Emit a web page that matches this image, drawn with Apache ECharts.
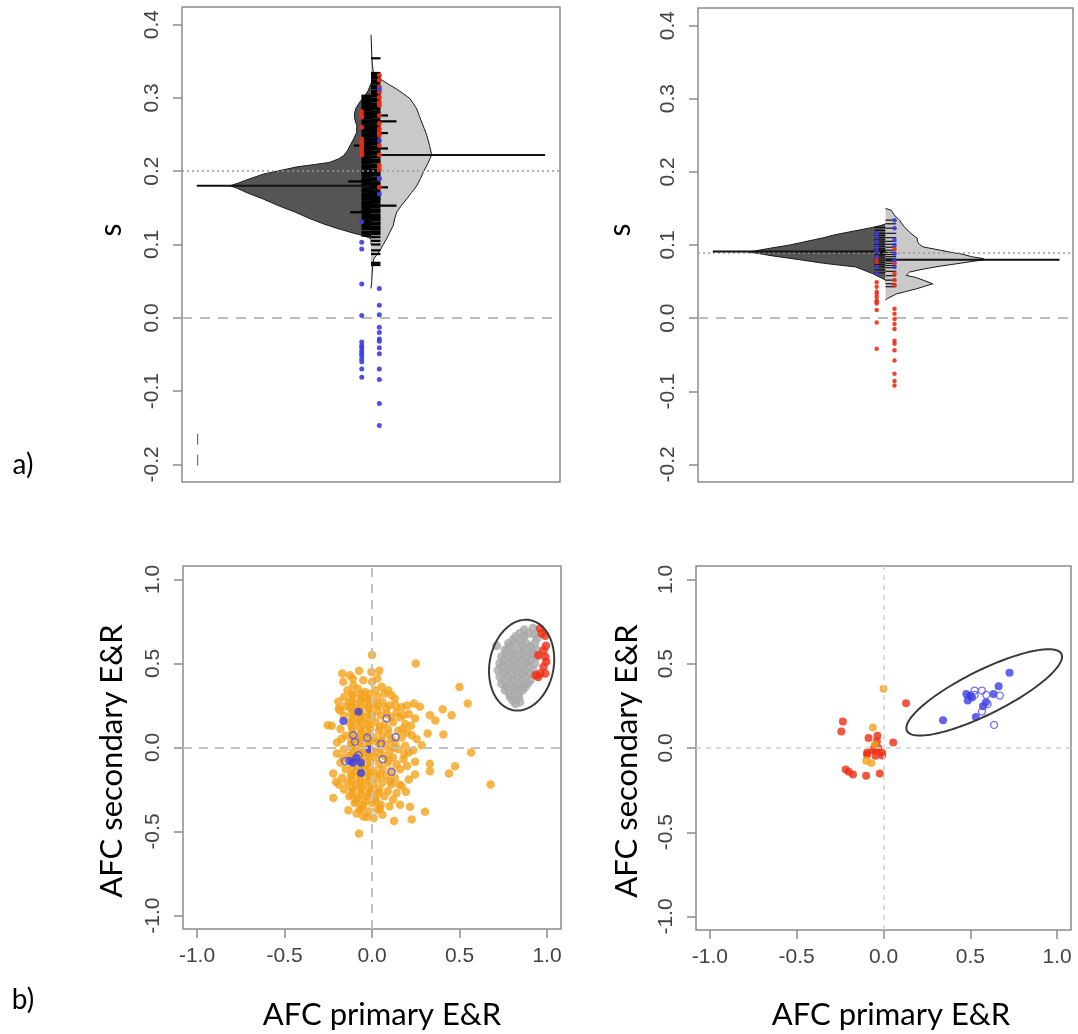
<!DOCTYPE html>
<html>
<head>
<meta charset="utf-8">
<script src="https://cdn.jsdelivr.net/npm/echarts@6/dist/echarts.min.js"></script>
<style>
  html, body { margin: 0; padding: 0; background: #fff; }
  #chart { width: 1078px; height: 1034px; }
</style>
</head>
<body>
<div id="chart"></div>
<script>
// ---------- axis ticks ----------
const sTicks = [-0.2, -0.1, 0, 0.1, 0.2, 0.3, 0.4];
const afcTicks = [-1, -0.5, 0, 0.5, 1];

// ---------- panel a, left bean plot ----------
// density profiles: [s, half-width]
const beanA1 = [[0.100,0.0],[0.108,0.0],[0.112,0.04],[0.116,0.10],[0.122,0.18],[0.128,0.25],[0.136,0.33],[0.144,0.40],[0.153,0.49],[0.162,0.57],[0.171,0.66],[0.177,0.71],[0.180,0.746],[0.184,0.70],[0.188,0.66],[0.196,0.57],[0.201,0.48],[0.206,0.39],[0.209,0.30],[0.212,0.22],[0.217,0.17],[0.221,0.146],[0.228,0.125],[0.235,0.111],[0.245,0.09],[0.253,0.076],[0.262,0.075],[0.270,0.085],[0.278,0.088],[0.286,0.08],[0.294,0.06],[0.302,0.035],[0.310,0.015],[0.320,0.0]];
const beanA2 = [[0.040,0.0],[0.050,0.004],[0.060,0.006],[0.070,0.009],[0.080,0.014],[0.092,0.048],[0.100,0.065],[0.108,0.083],[0.117,0.10],[0.126,0.118],[0.135,0.125],[0.144,0.136],[0.153,0.16],[0.162,0.189],[0.171,0.215],[0.180,0.242],[0.190,0.262],[0.199,0.277],[0.210,0.30],[0.222,0.321],[0.235,0.31],[0.249,0.295],[0.258,0.282],[0.267,0.268],[0.276,0.255],[0.285,0.242],[0.292,0.225],[0.299,0.206],[0.306,0.17],[0.312,0.136],[0.319,0.09],[0.326,0.048],[0.332,0.014],[0.345,0.007],[0.360,0.004],[0.386,0.0]];
const meanA = [0.180, 0.222];
const overallA = 0.200;
const linesA1 = [0.112,0.115,0.117,0.121,0.124,0.126,0.128,0.131,0.133,0.136,0.138,0.140,0.143,0.145,0.147,0.150,0.151,0.154,0.156,0.158,0.161,0.163,0.165,0.167,0.169,0.172,0.174,0.176,0.179,0.181,0.183,0.186,0.188,0.190,0.193,0.195,0.197,0.199,0.201,0.204,0.206,0.208,0.211,0.213,0.215,0.217,0.219,0.222,0.224,0.226,0.229,0.231,0.233,0.236,0.238,0.240,0.242,0.244,0.247,0.249,0.251,0.254,0.256,0.258,0.260,0.262,0.265,0.267,0.269,0.272,0.274,0.276,0.278,0.280,0.283,0.285,0.287,0.289,0.291,0.293,0.295,0.297,0.299,0.301,0.303];
const linesA2 = [0.072,0.075,0.087,0.092,0.100,0.105,0.110,0.114,0.116,0.118,0.121,0.123,0.124,0.127,0.129,0.130,0.133,0.135,0.137,0.139,0.141,0.144,0.146,0.148,0.151,0.153,0.155,0.158,0.160,0.162,0.164,0.166,0.169,0.171,0.173,0.176,0.178,0.180,0.182,0.184,0.187,0.189,0.191,0.194,0.196,0.198,0.200,0.202,0.205,0.207,0.209,0.212,0.214,0.216,0.219,0.221,0.223,0.225,0.227,0.230,0.232,0.234,0.237,0.239,0.241,0.243,0.245,0.248,0.250,0.252,0.255,0.257,0.259,0.261,0.263,0.266,0.268,0.270,0.273,0.275,0.277,0.279,0.281,0.284,0.286,0.288,0.290,0.292,0.295,0.297,0.299,0.302,0.304,0.306,0.308,0.310,0.313,0.315,0.317,0.320,0.322,0.324,0.327,0.329,0.331,0.334,0.354];
const longA1 = [[0.186,0.12],[0.144,0.11],[0.235,0.09]];
const longA2 = [[0.276,0.09],[0.268,0.135],[0.252,0.09],[0.231,0.09],[0.178,0.09],[0.153,0.135]];
const redA1 = [0.281,0.276,0.274,0.260,0.244,0.240,0.235,0.231,0.226,0.222];
const blueA1 = [0.131,0.103,0.094,0.046,0.003,-0.033,-0.038,-0.041,-0.045,-0.048,-0.051,-0.056,-0.060,-0.070,-0.081];
const redA2 = [0.331,0.324,0.315,0.308,0.301,0.294,0.290,0.276,0.265,0.258,0.253,0.249,0.235,0.222,0.208,0.203,0.190,0.178];
const blueA2 = [0.312,0.242,0.190,0.169,0.040,0.017,0.004,-0.013,-0.020,-0.029,-0.032,-0.041,-0.049,-0.070,-0.084,-0.117,-0.147];
const stubA = [-0.158, -0.203];

// ---------- panel a, right bean plot ----------
const beanB1 = [[0.050,0.0],[0.052,0.0],[0.056,0.03],[0.061,0.07],[0.066,0.12],[0.070,0.16],[0.075,0.33],[0.080,0.46],[0.085,0.60],[0.0905,0.725],[0.095,0.63],[0.100,0.51],[0.105,0.42],[0.110,0.33],[0.114,0.27],[0.118,0.19],[0.121,0.13],[0.124,0.07],[0.127,0.02],[0.129,0.0]];
const beanB2 = [[0.025,0.0],[0.027,0.012],[0.033,0.057],[0.040,0.164],[0.047,0.252],[0.052,0.20],[0.0555,0.164],[0.0585,0.11],[0.063,0.128],[0.067,0.20],[0.071,0.29],[0.0755,0.41],[0.080,0.528],[0.0815,0.52],[0.084,0.46],[0.0874,0.41],[0.090,0.35],[0.093,0.29],[0.0974,0.20],[0.101,0.18],[0.105,0.17],[0.109,0.17],[0.117,0.13],[0.125,0.10],[0.130,0.085],[0.134,0.075],[0.140,0.05],[0.1475,0.03],[0.150,0.0]];
const meanB = [0.091, 0.080];
const overallB = 0.087;
const linesB1 = [0.062,0.066,0.070,0.073,0.076,0.079,0.082,0.085,0.087,0.089,0.090,0.091,0.092,0.093,0.095,0.098,0.101,0.104,0.107,0.110,0.113,0.116,0.120,0.124];
const linesB2 = [0.043,0.047,0.052,0.058,0.064,0.069,0.072,0.075,0.078,0.080,0.081,0.084,0.087,0.090,0.093,0.097,0.101,0.105,0.110,0.116,0.123,0.129,0.134];
const redB1 = [0.082,0.077,0.049,0.043,0.036,0.033,0.029,0.024,0.022,0.020,0.011,-0.006,-0.042];
const blueB1 = [0.116,0.111,0.104,0.097,0.091,0.084,0.070,0.061];
const redB2 = [0.095,0.075,0.061,0.052,0.045,0.013,0.006,-0.001,-0.008,-0.015,-0.031,-0.035,-0.044,-0.058,-0.076,-0.086,-0.092];
const blueB2 = [0.134,0.123,0.107,0.100,0.088,0.079,0.070];

// ---------- panel b, left scatter ----------
const orangeC = [
  [0.0,0.55],[0.25,0.50],[-0.17,0.44],[-0.126,0.43],[-0.074,0.456],[0.042,0.456],[-0.003,0.45],[0.50,0.36],[0.547,0.262],[0.455,0.192],
  [0.404,0.228],[0.331,0.192],[0.362,0.161],[0.408,0.077],[0.318,0.083],[0.566,-0.03],[0.678,-0.22],[0.474,-0.111],[0.44,-0.155],[0.331,-0.097],
  [0.331,-0.141],[0.246,-0.085],[0.246,-0.161],[0.236,-0.016],[0.284,0.014],[0.227,0.073],[0.223,0.129],[0.246,0.173],[0.179,0.192],[0.274,0.242],
  [0.24,0.262],[0.303,-0.383],[0.227,-0.429],[0.126,-0.437],[-0.074,-0.512],[-0.221,-0.30],[-0.253,0.133],[-0.23,0.129],[-0.135,-0.373],[0.217,-0.353],
  [0.16,-0.34],[0.194,-0.264],[0.046,-0.363],[-0.03,-0.413],[-0.088,-0.393],[-0.221,-0.155],[-0.206,-0.204],[-0.202,-0.036],[-0.183,0.222],[-0.192,0.272],
  [-0.164,0.391],[-0.107,0.371],[0.0,0.391],[0.055,0.361],[0.093,0.341],[0.112,0.311],
  [-0.14,0.34],[-0.08,0.35],[-0.04,0.33],[0.02,0.34],[0.07,0.32],
  [-0.16,0.30],[-0.11,0.31],[-0.06,0.30],[-0.02,0.29],[0.03,0.30],[0.13,0.29],
  [-0.13,0.27],[-0.09,0.26],[-0.04,0.27],[0.01,0.26],[0.06,0.27],[0.10,0.25],[0.20,0.25],
  [-0.19,0.23],[-0.12,0.23],[-0.07,0.22],[-0.02,0.23],[0.03,0.22],[0.08,0.23],[0.14,0.21],[0.17,0.24],
  [-0.16,0.19],[-0.10,0.19],[-0.05,0.18],[0.00,0.19],[0.05,0.19],[0.11,0.18],[0.16,0.18],[0.21,0.20],
  [-0.13,0.15],[-0.08,0.15],[-0.03,0.14],[0.02,0.15],[0.07,0.14],[0.12,0.15],[0.19,0.14],
  [-0.18,0.11],[-0.11,0.11],[-0.06,0.10],[-0.01,0.11],[0.04,0.10],[0.09,0.11],[0.15,0.10],[0.20,0.09],
  [-0.15,0.07],[-0.09,0.06],[-0.04,0.07],[0.01,0.06],[0.06,0.07],[0.11,0.05],[0.17,0.06],
  [-0.20,0.03],[-0.12,0.02],[-0.07,0.03],[-0.02,0.02],[0.03,0.03],[0.08,0.02],[0.13,0.03],[0.19,0.01],
  [-0.16,-0.01],[-0.10,-0.02],[-0.05,-0.01],[0.00,-0.02],[0.05,-0.01],[0.10,-0.02],[0.15,-0.01],[0.21,-0.03],
  [-0.13,-0.05],[-0.08,-0.06],[-0.03,-0.05],[0.02,-0.06],[0.07,-0.05],[0.12,-0.06],[0.18,-0.07],
  [-0.18,-0.09],[-0.11,-0.09],[-0.06,-0.10],[-0.01,-0.09],[0.04,-0.10],[0.09,-0.09],[0.14,-0.10],[0.20,-0.11],
  [-0.15,-0.13],[-0.09,-0.14],[-0.04,-0.13],[0.01,-0.14],[0.06,-0.13],[0.11,-0.14],[0.16,-0.13],
  [-0.17,-0.18],[-0.12,-0.17],[-0.07,-0.18],[-0.02,-0.17],[0.03,-0.18],[0.08,-0.17],[0.13,-0.18],[0.21,-0.19],
  [-0.14,-0.21],[-0.09,-0.22],[-0.04,-0.21],[0.01,-0.22],[0.06,-0.21],[0.11,-0.22],[0.17,-0.23],
  [-0.16,-0.25],[-0.11,-0.26],[-0.06,-0.25],[-0.01,-0.26],[0.04,-0.25],[0.09,-0.26],[0.14,-0.27],
  [-0.13,-0.29],[-0.08,-0.30],[-0.03,-0.29],[0.02,-0.30],[0.07,-0.29],[0.12,-0.31],
  [-0.10,-0.33],[-0.05,-0.34],[0.00,-0.33],[0.05,-0.34],[0.10,-0.35],
  [-0.07,-0.37],[-0.02,-0.38],[0.03,-0.37],[-0.05,-0.41],[0.01,-0.42],[0.06,-0.40],
  [-0.11,0.41],[-0.05,0.40],[0.03,0.41],
  [-0.115,0.32],[-0.065,0.32],[-0.015,0.32],[-0.115,0.28],[-0.065,0.28],[-0.015,0.28],[-0.115,0.24],[-0.065,0.24],[-0.015,0.24],
  [-0.115,0.20],[-0.065,0.20],[-0.015,0.20],[-0.115,0.16],[-0.065,0.16],[-0.015,0.16],[-0.115,0.12],[-0.065,0.12],[-0.015,0.12],
  [-0.115,0.08],[-0.065,0.08],[-0.015,0.08],[-0.115,0.04],[-0.065,0.04],[-0.015,0.04],[-0.115,0.00],[-0.065,0.00],[-0.015,0.00],
  [-0.115,-0.04],[-0.065,-0.04],[-0.015,-0.04],[-0.115,-0.08],[-0.065,-0.08],[-0.015,-0.08],[-0.115,-0.12],[-0.065,-0.12],[-0.015,-0.12],
  [-0.115,-0.16],[-0.065,-0.16],[-0.015,-0.16],[-0.115,-0.20],[-0.065,-0.20],[-0.015,-0.20],[-0.115,-0.24],[-0.065,-0.24],[-0.015,-0.24],
  [-0.115,-0.28],[-0.065,-0.28],[-0.015,-0.28],[-0.09,-0.32],[-0.04,-0.32],[0.02,-0.32],[-0.06,-0.36],
  [0.035,0.25],[0.085,0.20],[0.045,0.12],[0.095,0.08],[0.055,0.04],[0.125,0.00],[0.035,-0.03],[0.095,-0.07],[0.045,-0.16],[0.105,-0.20],
  [0.035,-0.27],[0.155,-0.22],[0.175,0.11],[0.135,0.25],[-0.175,0.05],[-0.165,-0.06],[-0.19,-0.22],[-0.15,0.245],[0.185,-0.04],[0.255,0.05]
];
const blueFillC = [[-0.164,0.157],[-0.078,0.212],[-0.015,-0.01],[-0.09,-0.061],[-0.107,-0.09],[-0.063,-0.091],[-0.063,-0.151],[-0.13,-0.08]];
const blueOpenC = [[0.084,0.173],[-0.107,0.073],[-0.097,0.034],[-0.027,0.058],[0.051,0.022],[0.135,0.061],[-0.078,-0.046],[-0.154,-0.081],[0.061,-0.07],[0.112,-0.145]];
const greyC = [
  [0.87,0.70],[0.92,0.71],[0.82,0.66],[0.87,0.66],[0.93,0.67],[0.78,0.62],[0.83,0.62],[0.88,0.62],[0.93,0.62],
  [0.712,0.605],[0.76,0.58],[0.81,0.58],[0.86,0.58],[0.91,0.58],[0.74,0.54],[0.79,0.54],[0.84,0.54],[0.89,0.54],
  [0.73,0.50],[0.78,0.50],[0.83,0.50],[0.88,0.50],[0.93,0.50],[0.72,0.46],[0.77,0.46],[0.82,0.46],[0.87,0.46],[0.92,0.46],
  [0.73,0.42],[0.78,0.42],[0.83,0.42],[0.88,0.42],[0.74,0.38],[0.79,0.38],[0.84,0.38],[0.89,0.38],
  [0.76,0.34],[0.81,0.34],[0.86,0.34],[0.79,0.30],[0.84,0.30],[0.82,0.26],
  [0.755,0.44],[0.805,0.52],[0.855,0.44],[0.855,0.64],[0.905,0.52],[0.805,0.40],[0.855,0.36],[0.905,0.40],
  [0.895,0.68],[0.845,0.68],[0.805,0.64],[0.855,0.60],[0.905,0.60],[0.785,0.60],[0.765,0.56],[0.815,0.56],[0.865,0.56],[0.915,0.56],
  [0.755,0.52],[0.855,0.52],[0.745,0.48],[0.795,0.48],[0.845,0.48],[0.895,0.48],[0.805,0.44],[0.905,0.44],[0.755,0.40],[0.855,0.40],
  [0.765,0.36],[0.815,0.36],[0.875,0.36],[0.785,0.32],[0.835,0.32],[0.805,0.28],[0.845,0.27],[0.94,0.58],[0.94,0.54],[0.945,0.65]
];
const redC = [[0.96,0.708],[0.989,0.665],[0.97,0.68],[0.994,0.605],[0.98,0.579],[0.95,0.549],[0.99,0.54],[0.996,0.51],[0.98,0.48],[0.96,0.44],[0.99,0.44],[0.95,0.42],[0.935,0.43]];
// ellipse: centre x, centre y, major axis x, major axis y, minor axis x, minor axis y
const ellipseC = [0.855, 0.49, 0.048, 0.268, 0.18, -0.035];

// ---------- panel b, right scatter ----------
const redD = [[0.13,0.266],[-0.234,0.157],[-0.243,0.098],[-0.086,0.06],[-0.035,0.072],[-0.038,0.04],[0.056,0.032],[-0.094,-0.026],[-0.052,0.006],[-0.008,-0.026],[-0.095,-0.04],[-0.046,-0.046],[-0.008,-0.045],[-0.045,-0.015],[-0.218,-0.128],[-0.2,-0.141],[-0.176,-0.157],[-0.1,-0.165],[-0.021,-0.151],[-0.062,-0.012],[-0.03,0.0]];
const orangeD = [[0.0,0.351],[-0.061,0.122],[-0.1,-0.075],[-0.07,-0.089],[-0.05,0.018]];
const blueFillD = [[0.343,0.165],[0.532,0.184],[0.485,0.282],[0.477,0.321],[0.50,0.311],[0.51,0.30],[0.59,0.272],[0.573,0.248],[0.634,0.321],[0.726,0.446],[0.663,0.367]];
const blueOpenD = [[0.525,0.341],[0.567,0.341],[0.592,0.315],[0.567,0.216],[0.67,0.311],[0.637,0.137],[0.525,0.315],[0.60,0.26]];
const ellipseD = [0.58, 0.33, 0.445, 0.228, -0.056, 0.117];

// ---------- colours ----------
const cDark = '#555555', cLight = '#c9c9c9';
const cRed = '#ef2d14', cBlue = '#3c3ce6', cOrange = '#f2a21c', cGrey = '#a9a9a9';
const boxColor = '#8c8c8c', tickText = '#444444';

// ---------- helpers ----------
const fmt = v => v.toFixed(1);

function yAxisCfg(grid, min, max, ticks) {
  return {
    type: 'value', gridIndex: grid, min: min, max: max,
    axisLine: { show: false, onZero: false }, splitLine: { show: false },
    axisTick: { show: true, customValues: ticks, length: 9, lineStyle: { color: boxColor, width: 1.5 } },
    axisLabel: { customValues: ticks, rotate: 90, margin: 19, fontSize: 21, color: tickText,
                 fontFamily: 'Liberation Sans, Arial, sans-serif', formatter: fmt }
  };
}
function xAxisCfg(grid, min, max, ticks) {
  if (!ticks) {
    return { type: 'value', gridIndex: grid, min: min, max: max, show: false,
             axisLine: { show: false, onZero: false } };
  }
  return {
    type: 'value', gridIndex: grid, min: min, max: max,
    axisLine: { show: false, onZero: false }, splitLine: { show: false },
    axisTick: { show: true, customValues: ticks, length: 9, lineStyle: { color: boxColor, width: 1.5 } },
    axisLabel: { customValues: ticks, margin: 17, fontSize: 21, color: tickText,
                 fontFamily: 'Liberation Sans, Arial, sans-serif', formatter: fmt }
  };
}

// one half of a bean: filled density with an outline
function beanHalf(profile, side, fill, gi) {
  return {
    type: 'custom', xAxisIndex: gi, yAxisIndex: gi, silent: true, z: 3,
    data: [[0, profile[0][0]]],
    renderItem: function (params, api) {
      const outline = profile.map(p => api.coord([side * p[1], p[0]]));
      const poly = [api.coord([0, profile[0][0]])].concat(outline, [api.coord([0, profile[profile.length - 1][0]])]);
      return { type: 'group', children: [
        { type: 'polygon', shape: { points: poly }, style: { fill: fill } },
        { type: 'polyline', shape: { points: outline }, style: { fill: null, stroke: '#1a1a1a', lineWidth: 1 } }
      ] };
    }
  };
}

// short horizontal lines, one per observation
function beanLines(items, side, gi, width, color) {
  return {
    type: 'custom', xAxisIndex: gi, yAxisIndex: gi, silent: true, z: 4,
    data: items,
    encode: { x: 1, y: 0 },
    renderItem: function (params, api) {
      const s = api.value(0), len = api.value(1);
      const a = api.coord([0, s]), b = api.coord([side * len, s]);
      return { type: 'line', shape: { x1: a[0], y1: a[1], x2: b[0], y2: b[1] },
               style: { stroke: color, lineWidth: width } };
    }
  };
}

function meanLine(s, from, to, gi) {
  return {
    type: 'line', xAxisIndex: gi, yAxisIndex: gi, silent: true, z: 5, symbol: 'none',
    data: [[from, s], [to, s]], lineStyle: { color: '#111', width: 2 }
  };
}

function dots(values, xcol, color, gi, size) {
  return {
    type: 'scatter', xAxisIndex: gi, yAxisIndex: gi, silent: true, z: 6,
    symbolSize: size, data: values.map(v => [xcol, v]),
    itemStyle: { color: color, opacity: 0.9 }
  };
}

function points(data, gi, style, size, z) {
  return {
    type: 'scatter', xAxisIndex: gi, yAxisIndex: gi, silent: true, z: z,
    symbol: 'circle', symbolSize: size, data: data, itemStyle: style
  };
}

function ellipse(e, gi) {
  return {
    type: 'custom', xAxisIndex: gi, yAxisIndex: gi, silent: true, z: 8,
    data: [[e[0], e[1]]],
    renderItem: function (params, api) {
      const pts = [];
      for (let i = 0; i <= 120; i++) {
        const t = i / 120 * Math.PI * 2, c = Math.cos(t), s = Math.sin(t);
        pts.push(api.coord([e[0] + e[2] * c + e[4] * s, e[1] + e[3] * c + e[5] * s]));
      }
      return { type: 'polyline', shape: { points: pts }, style: { fill: null, stroke: '#3a3a3a', lineWidth: 2 } };
    }
  };
}

function refLines(gi, lines) {
  return {
    type: 'line', xAxisIndex: gi, yAxisIndex: gi, data: [], z: 1, silent: true,
    markLine: { silent: true, symbol: 'none', animation: false, label: { show: false }, data: lines }
  };
}

const withLen = (arr, len) => arr.map(v => [v, len]);

const series = [
  // panel a, left
  refLines(0, [
    { yAxis: 0, lineStyle: { type: [10, 8], color: '#bdbdbd', width: 2 } },
    { yAxis: overallA, lineStyle: { type: [2, 3], color: '#9a9a9a', width: 1.5 } }
  ]),
  beanHalf(beanA1, -1, cDark, 0),
  beanHalf(beanA2, 1, cLight, 0),
  beanLines(withLen(linesA1, 0.05).concat(longA1), -1, 0, 2.2, '#000'),
  beanLines(withLen(linesA2, 0.05).concat(longA2), 1, 0, 2.2, '#000'),
  meanLine(meanA[0], -0.922, 0, 0),
  meanLine(meanA[1], 0, 0.921, 0),
  {
    type: 'line', xAxisIndex: 0, yAxisIndex: 0, silent: true, z: 5, symbol: 'none',
    data: stubA.map(v => [-0.917, v]), lineStyle: { color: '#555', width: 1, type: [11, 10] }
  },
  dots(redA1, -0.049, cRed, 0, 5),
  dots(blueA1, -0.049, cBlue, 0, 5),
  dots(redA2, 0.044, cRed, 0, 5),
  dots(blueA2, 0.044, cBlue, 0, 5),

  // panel a, right
  refLines(1, [
    { yAxis: 0, lineStyle: { type: [10, 8], color: '#bdbdbd', width: 2 } },
    { yAxis: overallB, lineStyle: { type: [2, 3], color: '#9a9a9a', width: 1.5 } }
  ]),
  beanHalf(beanB1, -1, cDark, 1),
  beanHalf(beanB2, 1, cLight, 1),
  beanLines(withLen(linesB1, 0.06), -1, 1, 1.2, '#111'),
  beanLines(withLen(linesB2, 0.057), 1, 1, 1.2, '#111'),
  meanLine(meanB[0], -0.921, 0, 1),
  meanLine(meanB[1], 0, 0.928, 1),
  dots(redB1, -0.047, cRed, 1, 4.5),
  dots(blueB1, -0.047, cBlue, 1, 4.5),
  dots(redB2, 0.048, cRed, 1, 4.5),
  dots(blueB2, 0.048, cBlue, 1, 4.5),

  // panel b, left
  refLines(2, [
    { yAxis: 0, lineStyle: { type: [9, 7], color: '#c2c2c2', width: 2 } },
    { xAxis: 0, lineStyle: { type: [9, 7], color: '#c2c2c2', width: 2 } }
  ]),
  points(orangeC, 2, { color: cOrange }, 8.5, 3),
  points(blueFillC, 2, { color: cBlue }, 8, 4),
  points(blueOpenC, 2, { color: 'rgba(0,0,0,0)', borderColor: '#5252ee', borderWidth: 1.3 }, 7, 4),
  points(greyC, 2, { color: cGrey }, 9, 3),
  points(redC, 2, { color: cRed }, 8.5, 4),
  ellipse(ellipseC, 2),

  // panel b, right
  refLines(3, [
    { yAxis: 0, lineStyle: { type: [5, 5], color: '#d0d0d0', width: 1.5 } },
    { xAxis: 0, lineStyle: { type: [5, 5], color: '#d0d0d0', width: 1.5 } }
  ]),
  points(redD, 3, { color: cRed }, 8, 3),
  points(orangeD, 3, { color: cOrange }, 8, 4),
  points(blueFillD, 3, { color: cBlue }, 8, 4),
  points(blueOpenD, 3, { color: 'rgba(0,0,0,0)', borderColor: '#5252ee', borderWidth: 1.3 }, 7, 4),
  ellipse(ellipseD, 3)
];

const labelFont = 'Lato, "Open Sans", sans-serif';
function label(text, x, y, size, rotate) {
  return {
    type: 'text', x: x, y: y, rotation: rotate ? Math.PI / 2 : 0, silent: true,
    style: { text: text, font: size + 'px ' + labelFont, fill: '#000',
             align: 'center', verticalAlign: 'middle', textAlign: 'center', textVerticalAlign: 'middle' }
  };
}

const gridStyle = { show: true, borderColor: boxColor, borderWidth: 1.5, backgroundColor: 'transparent' };

const option = {
  animation: false,
  backgroundColor: '#ffffff',
  grid: [
    Object.assign({ left: 182, top: 7, width: 378, height: 475 }, gridStyle),
    Object.assign({ left: 698, top: 8, width: 375, height: 474 }, gridStyle),
    Object.assign({ left: 183, top: 566, width: 378, height: 363 }, gridStyle),
    Object.assign({ left: 696, top: 566, width: 375, height: 364 }, gridStyle)
  ],
  xAxis: [
    xAxisCfg(0, -1, 1),
    xAxisCfg(1, -1, 1),
    xAxisCfg(2, -1.08, 1.08, afcTicks),
    xAxisCfg(3, -1.08, 1.08, afcTicks)
  ],
  yAxis: [
    yAxisCfg(0, -0.224, 0.424, sTicks),
    yAxisCfg(1, -0.224, 0.424, sTicks),
    yAxisCfg(2, -1.08, 1.08, afcTicks),
    yAxisCfg(3, -1.08, 1.08, afcTicks)
  ],
  graphic: [
    label('s', 111, 230, 30, true),
    label('s', 620, 230, 30, true),
    label('a)', 23, 465, 28, false),
    label('b)', 23, 1000, 28, false),
    label('AFC secondary E&R', 112, 761, 31, true),
    label('AFC secondary E&R', 627, 761, 31, true),
    label('AFC primary E&R', 382, 1015, 31, false),
    label('AFC primary E&R', 891, 1015, 31, false)
  ],
  series: series
};

const chart = echarts.init(document.getElementById('chart'), null, { renderer: 'canvas' });
chart.setOption(option);
</script>
</body>
</html>
